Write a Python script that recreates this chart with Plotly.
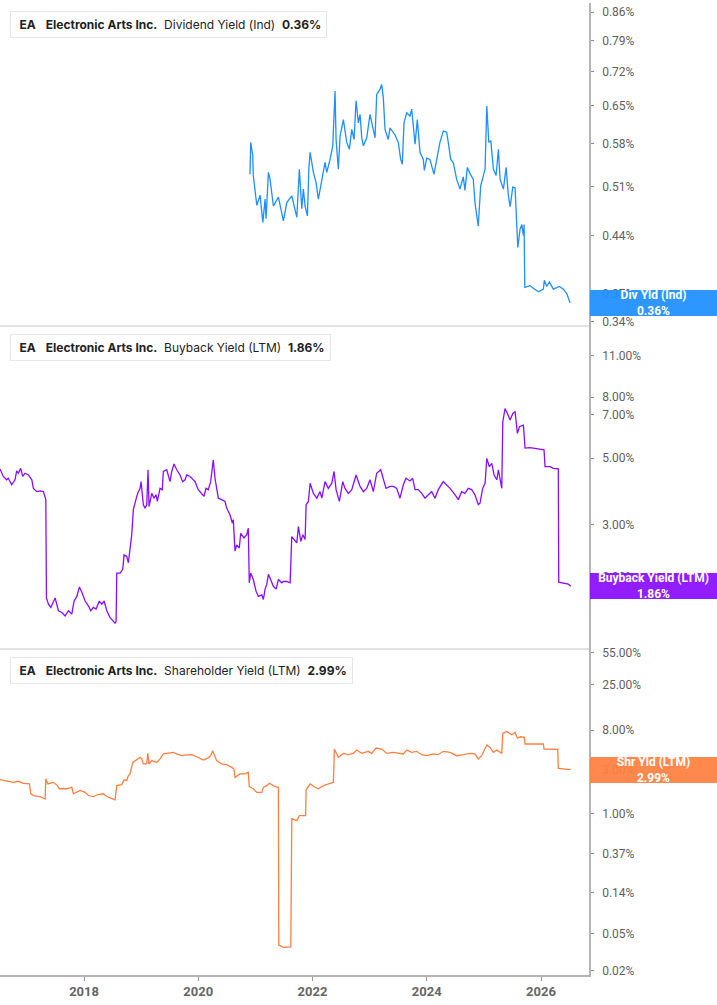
import math
from datetime import datetime, timedelta
import plotly.graph_objects as go
from plotly.subplots import make_subplots

# ---------------- data (decimal years, values in %) ----------------
div_years = [2020.906, 2020.919, 2020.954, 2020.964, 2021.024, 2021.081, 2021.129, 2021.169, 2021.186, 2021.227,
             2021.256, 2021.314, 2021.402, 2021.489, 2021.549, 2021.636, 2021.724, 2021.769, 2021.811, 2021.839,
             2021.869, 2021.910, 2021.934, 2021.957, 2022.015, 2022.062, 2022.102, 2022.162, 2022.219, 2022.249,
             2022.307, 2022.354, 2022.394, 2022.412, 2022.452, 2022.482, 2022.540, 2022.599, 2022.645, 2022.687,
             2022.727, 2022.762, 2022.802, 2022.832, 2022.862, 2022.890, 2022.949, 2023.007, 2023.065, 2023.095,
             2023.124, 2023.182, 2023.212, 2023.240, 2023.270, 2023.327, 2023.357, 2023.445, 2023.502, 2023.544,
             2023.572, 2023.602, 2023.649, 2023.707, 2023.737, 2023.765, 2023.795, 2023.835, 2023.882, 2023.940,
             2023.958, 2024.000, 2024.057, 2024.127, 2024.174, 2024.232, 2024.290, 2024.350, 2024.378, 2024.420,
             2024.465, 2024.525, 2024.583, 2024.640, 2024.670, 2024.711, 2024.758, 2024.816, 2024.845, 2024.903,
             2024.945, 2024.991, 2025.020, 2025.050, 2025.085, 2025.120, 2025.165, 2025.213, 2025.253, 2025.283,
             2025.341, 2025.388, 2025.428, 2025.458, 2025.505, 2025.545, 2025.563, 2025.593, 2025.633, 2025.663,
             2025.691, 2025.703, 2025.715, 2025.808, 2025.866, 2025.954, 2026.041, 2026.058, 2026.100, 2026.146,
             2026.216, 2026.321, 2026.391, 2026.451, 2026.508]
div_vals = [0.529, 0.582, 0.560, 0.527, 0.482, 0.497, 0.458, 0.491, 0.463, 0.532,
            0.521, 0.481, 0.494, 0.460, 0.486, 0.496, 0.465, 0.537, 0.477, 0.506,
            0.481, 0.467, 0.537, 0.565, 0.532, 0.516, 0.491, 0.521, 0.548, 0.532,
            0.553, 0.576, 0.679, 0.587, 0.537, 0.593, 0.623, 0.582, 0.570, 0.605,
            0.587, 0.659, 0.617, 0.633, 0.590, 0.576, 0.590, 0.633, 0.605, 0.590,
            0.672, 0.682, 0.692, 0.665, 0.605, 0.587, 0.608, 0.595, 0.582, 0.553,
            0.545, 0.617, 0.636, 0.630, 0.643, 0.615, 0.579, 0.623, 0.565, 0.553,
            0.535, 0.555, 0.553, 0.529, 0.555, 0.582, 0.602, 0.600, 0.582, 0.553,
            0.548, 0.521, 0.506, 0.525, 0.504, 0.540, 0.530, 0.521, 0.486, 0.453,
            0.511, 0.525, 0.537, 0.649, 0.582, 0.585, 0.537, 0.527, 0.570, 0.521,
            0.506, 0.540, 0.496, 0.480, 0.509, 0.508, 0.477, 0.425, 0.449, 0.455,
            0.440, 0.455, 0.377, 0.379, 0.376, 0.372, 0.375, 0.385, 0.378, 0.383,
            0.375, 0.378, 0.375, 0.370, 0.360]

bb_years = [2016.530, 2016.588, 2016.647, 2016.675, 2016.735, 2016.793, 2016.822, 2016.850, 2016.892, 2016.927,
            2016.968, 2017.025, 2017.085, 2017.113, 2017.172, 2017.230, 2017.288, 2017.330, 2017.341, 2017.376,
            2017.418, 2017.493, 2017.551, 2017.610, 2017.668, 2017.726, 2017.785, 2017.825, 2017.873, 2017.918,
            2017.960, 2018.018, 2018.076, 2018.118, 2018.163, 2018.211, 2018.268, 2018.310, 2018.351, 2018.398,
            2018.456, 2018.503, 2018.543, 2018.561, 2018.573, 2018.631, 2018.678, 2018.701, 2018.748, 2018.776,
            2018.806, 2018.835, 2018.863, 2018.893, 2018.923, 2018.951, 2018.981, 2018.998, 2019.039, 2019.068,
            2019.098, 2019.121, 2019.138, 2019.186, 2019.226, 2019.261, 2019.284, 2019.331, 2019.371, 2019.389,
            2019.448, 2019.506, 2019.536, 2019.576, 2019.623, 2019.681, 2019.728, 2019.769, 2019.798, 2019.856,
            2019.903, 2019.944, 2020.001, 2020.061, 2020.101, 2020.136, 2020.176, 2020.218, 2020.236, 2020.264,
            2020.294, 2020.323, 2020.352, 2020.411, 2020.469, 2020.498, 2020.556, 2020.597, 2020.614, 2020.644,
            2020.673, 2020.719, 2020.744, 2020.801, 2020.849, 2020.877, 2020.894, 2020.919, 2020.964, 2021.011,
            2021.052, 2021.111, 2021.139, 2021.169, 2021.199, 2021.227, 2021.269, 2021.314, 2021.362, 2021.402,
            2021.461, 2021.489, 2021.549, 2021.607, 2021.636, 2021.694, 2021.724, 2021.752, 2021.794, 2021.829,
            2021.869, 2021.887, 2021.927, 2021.957, 2022.015, 2022.074, 2022.132, 2022.162, 2022.219, 2022.277,
            2022.337, 2022.377, 2022.412, 2022.470, 2022.529, 2022.569, 2022.627, 2022.687, 2022.727, 2022.762,
            2022.832, 2022.890, 2022.949, 2023.007, 2023.065, 2023.124, 2023.194, 2023.240, 2023.287, 2023.357,
            2023.415, 2023.474, 2023.532, 2023.590, 2023.637, 2023.707, 2023.754, 2023.795, 2023.852, 2023.912,
            2023.970, 2024.028, 2024.087, 2024.145, 2024.203, 2024.290, 2024.350, 2024.408, 2024.495, 2024.553,
            2024.612, 2024.670, 2024.728, 2024.787, 2024.845, 2024.903, 2024.933, 2024.980, 2025.020, 2025.050,
            2025.095, 2025.137, 2025.178, 2025.225, 2025.253, 2025.295, 2025.312, 2025.330, 2025.370, 2025.411,
            2025.458, 2025.505, 2025.545, 2025.586, 2025.621, 2025.691, 2025.720, 2025.808, 2025.925, 2026.053,
            2026.070, 2026.158, 2026.216, 2026.303, 2026.310, 2026.391, 2026.478, 2026.520]
bb_vals = [4.60, 4.34, 4.23, 4.28, 4.07, 4.23, 4.53, 4.45, 4.62, 4.34,
           4.45, 4.39, 4.23, 3.96, 3.86, 3.88, 3.86, 3.63, 1.70, 1.62,
           1.58, 1.70, 1.54, 1.52, 1.48, 1.54, 1.50, 1.66, 1.72, 1.85,
           1.78, 1.66, 1.60, 1.54, 1.58, 1.56, 1.66, 1.62, 1.66, 1.54,
           1.46, 1.42, 1.40, 1.42, 2.06, 2.06, 2.12, 2.37, 2.34, 2.23,
           2.53, 2.77, 3.36, 3.58, 3.72, 3.86, 3.96, 4.17, 3.49, 3.40,
           3.49, 4.57, 3.44, 3.81, 3.67, 3.77, 3.58, 3.96, 3.92, 4.51,
           4.57, 4.17, 4.51, 4.78, 4.57, 4.39, 4.17, 4.23, 4.39, 4.34,
           4.26, 4.17, 3.92, 3.81, 3.72, 3.96, 3.92, 4.17, 4.45, 4.93,
           4.28, 3.96, 3.67, 3.63, 3.58, 3.40, 3.23, 3.03, 3.11, 2.44,
           2.56, 2.50, 2.80, 2.70, 2.77, 2.91, 1.91, 2.06, 1.96, 1.79,
           1.72, 1.74, 1.68, 1.82, 1.89, 2.04, 1.96, 1.86, 1.82, 1.96,
           1.91, 1.93, 1.93, 1.91, 2.73, 2.63, 2.60, 2.95, 2.63, 2.77,
           2.67, 3.49, 3.58, 4.12, 3.81, 3.67, 3.86, 3.67, 4.17, 3.96,
           4.12, 4.51, 3.92, 3.58, 4.17, 3.96, 3.81, 3.92, 4.17, 4.39,
           4.02, 3.86, 3.96, 4.23, 3.86, 4.45, 4.57, 4.28, 3.96, 4.02,
           4.02, 3.96, 3.67, 4.07, 4.28, 4.19, 4.28, 3.92, 3.92, 3.81,
           3.67, 3.77, 3.86, 3.67, 3.92, 4.17, 4.07, 3.96, 3.77, 3.63,
           3.86, 3.81, 3.96, 3.92, 3.77, 3.49, 3.53, 3.96, 4.12, 4.99,
           4.68, 4.80, 4.39, 4.23, 4.57, 4.17, 3.96, 6.62, 7.33, 7.06,
           6.71, 7.06, 7.15, 6.05, 6.37, 6.45, 5.40, 5.42, 5.37, 5.33,
           4.68, 4.68, 4.62, 4.60, 1.92, 1.91, 1.89, 1.86]

sh_years = [2016.530, 2016.647, 2016.763, 2016.850, 2016.938, 2017.043, 2017.067, 2017.113, 2017.230, 2017.318,
            2017.330, 2017.365, 2017.463, 2017.533, 2017.568, 2017.698, 2017.785, 2017.813, 2017.873, 2017.930,
            2018.018, 2018.076, 2018.163, 2018.251, 2018.338, 2018.398, 2018.456, 2018.543, 2018.573, 2018.660,
            2018.701, 2018.748, 2018.776, 2018.806, 2018.853, 2018.893, 2018.981, 2019.011, 2019.039, 2019.098,
            2019.116, 2019.138, 2019.186, 2019.273, 2019.331, 2019.389, 2019.476, 2019.564, 2019.623, 2019.711,
            2019.798, 2019.886, 2019.973, 2020.089, 2020.176, 2020.218, 2020.253, 2020.294, 2020.323, 2020.411,
            2020.498, 2020.586, 2020.626, 2020.644, 2020.684, 2020.731, 2020.819, 2020.877, 2020.894, 2020.964,
            2021.024, 2021.111, 2021.139, 2021.199, 2021.244, 2021.286, 2021.344, 2021.402, 2021.409, 2021.489,
            2021.619, 2021.636, 2021.724, 2021.769, 2021.878, 2021.887, 2021.957, 2022.044, 2022.102, 2022.190,
            2022.277, 2022.365, 2022.382, 2022.452, 2022.540, 2022.627, 2022.715, 2022.774, 2022.862, 2022.977,
            2023.037, 2023.112, 2023.212, 2023.300, 2023.415, 2023.502, 2023.590, 2023.649, 2023.737, 2023.824,
            2023.912, 2024.000, 2024.115, 2024.203, 2024.290, 2024.408, 2024.525, 2024.640, 2024.758, 2024.845,
            2024.903, 2024.962, 2024.991, 2025.050, 2025.108, 2025.165, 2025.225, 2025.283, 2025.312, 2025.330,
            2025.400, 2025.487, 2025.545, 2025.586, 2025.645, 2025.708, 2025.720, 2025.866, 2026.041, 2026.053,
            2026.158, 2026.293, 2026.303, 2026.420, 2026.520]
sh_vals = [2.34, 2.24, 2.18, 2.24, 2.13, 2.10, 1.64, 1.57, 1.53, 1.44,
           2.38, 2.10, 2.18, 2.01, 1.86, 1.86, 1.93, 1.64, 1.70, 1.78,
           1.70, 1.57, 1.53, 1.61, 1.64, 1.53, 1.48, 1.41, 2.01, 2.06,
           2.32, 2.28, 2.58, 2.69, 3.59, 3.75, 4.07, 3.91, 3.45, 3.45,
           4.49, 3.45, 3.75, 3.59, 3.91, 4.43, 4.49, 4.61, 4.43, 4.24,
           4.32, 4.35, 4.13, 3.81, 4.02, 4.24, 4.81, 4.24, 3.75, 3.45,
           3.39, 3.17, 3.04, 2.47, 2.58, 2.69, 2.69, 2.80, 1.96, 1.86,
           1.70, 1.70, 1.93, 2.01, 2.13, 2.06, 1.96, 1.93, 0.0376, 0.0355,
           0.036, 0.88, 0.84, 0.95, 0.95, 1.81, 2.10, 1.93, 1.86, 2.01,
           2.10, 2.18, 5.01, 4.07, 4.49, 4.35, 4.49, 4.89, 4.49, 4.73,
           4.49, 5.14, 5.01, 4.49, 4.61, 4.49, 4.43, 4.89, 4.61, 4.73,
           4.35, 4.24, 4.43, 4.35, 4.73, 4.61, 4.24, 4.35, 4.49, 4.43,
           3.91, 4.24, 4.61, 5.54, 5.21, 4.61, 4.89, 4.61, 4.49, 7.39,
           7.77, 7.15, 7.57, 6.59, 6.80, 6.69, 5.68, 5.68, 5.68, 5.01,
           5.01, 4.97, 3.09, 3.02, 2.99]

div_ticks = [0.34, 0.37, 0.44, 0.51, 0.58, 0.65, 0.72, 0.79, 0.86]
bb_ticks = [2.0, 3.0, 5.0, 7.0, 8.0, 11.0]
sh_ticks = [0.02, 0.05, 0.14, 0.37, 1.0, 3.0, 8.0, 25.0, 55.0]
year_ticks = [2018, 2020, 2022, 2024, 2026]

company = "Electronic Arts Inc."
ticker = "EA"
metric_names = ["Dividend Yield (Ind)", "Buyback Yield (LTM)", "Shareholder Yield (LTM)"]
tag_names = ["Div Yld (Ind)", "Buyback Yield (LTM)", "Shr Yld (LTM)"]
colors = ["#1e8fff", "#8a0dff", "#ff7f40"]
tag_colors = ["rgba(30,143,255,0.93)", "rgba(138,13,255,0.93)", "rgba(255,127,64,0.93)"]


def to_date(y):
    yr = int(y)
    return datetime(yr, 1, 1) + timedelta(days=(y - yr) * 365.25)


series = [(div_years, div_vals, div_ticks), (bb_years, bb_vals, bb_ticks), (sh_years, sh_vals, sh_ticks)]
y_ranges = [[-0.4739, -0.0538], [0.0593, 1.1417], [-1.749, 1.7836]]

fig = make_subplots(rows=3, cols=1, shared_xaxes=True, vertical_spacing=0,
                    row_heights=[324, 324, 327])

tick_font = dict(family="Roboto, Arial, sans-serif", size=12, color="#5f5f5f")

for i, (yrs, vals, ticks) in enumerate(series):
    row = i + 1
    fig.add_trace(go.Scatter(x=[to_date(v) for v in yrs], y=vals, mode="lines",
                             line=dict(color=colors[i], width=1.3), showlegend=False,
                             hoverinfo="skip"), row=row, col=1)
    fig.update_yaxes(type="log", side="right", range=y_ranges[i],
                     tickvals=ticks, ticktext=[f"{t:.2f}%" for t in ticks],
                     showgrid=False, zeroline=False, showline=True,
                     linecolor="#b4b4b4", linewidth=1.5, ticks="outside", ticklen=3,
                     tickcolor="#888", tickfont=tick_font, ticklabelstandoff=6,
                     row=row, col=1)
    last = vals[-1]
    yref = "y" if row == 1 else f"y{row}"
    # header box
    fig.add_annotation(xref="paper", x=0, xanchor="left", xshift=10,
                       yref=f"{yref} domain", y=1, yanchor="top", yshift=-8,
                       text=(f"&nbsp;<b>{ticker}</b>&nbsp;&nbsp;&nbsp;<b>{company}</b>&nbsp;&nbsp;"
                             f"{metric_names[i]}&nbsp;&nbsp;<b>{last:.2f}%</b>"),
                       showarrow=False, bgcolor="white", bordercolor="#e6e6e6",
                       borderwidth=1, borderpad=5,
                       font=dict(family="Inter, Arial, sans-serif", size=12, color="#222"))
    fig.add_shape(type="rect", xref="paper", xsizemode="pixel", xanchor=0, x0=10, x1=13,
                  yref=f"{yref} domain", ysizemode="pixel", yanchor=1, y0=-8, y1=-33,
                  fillcolor=colors[i], line=dict(width=0))
    # right value tag
    fig.add_annotation(xref="paper", x=1, xanchor="left", xshift=1,
                       yref=yref, y=math.log10(last), yanchor="middle",
                       text=f"<b>{tag_names[i]}<br>{last:.2f}%</b>",
                       showarrow=False, bgcolor=tag_colors[i], borderpad=0, borderwidth=0,
                       width=127, height=26, align="center",
                       font=dict(family="Roboto, Arial, sans-serif", size=12, color="white"))
    if row < 3:
        fig.add_shape(type="line", xref="paper", x0=0, x1=1,
                      yref=f"{yref} domain", y0=0, y1=0,
                      line=dict(color="#c4c4c4", width=1))

fig.update_xaxes(type="date", range=[to_date(2016.53), to_date(2026.84)],
                 showgrid=False, zeroline=False)
fig.update_xaxes(showticklabels=False, showline=False, row=1, col=1)
fig.update_xaxes(showticklabels=False, showline=False, row=2, col=1)
fig.update_xaxes(tickvals=[datetime(y, 1, 1) for y in year_ticks],
                 ticktext=[str(y) for y in year_ticks],
                 showline=True, linecolor="#b4b4b4", linewidth=1.5,
                 ticks="outside", ticklen=4, tickcolor="#999",
                 tickfont=dict(family="Roboto, Arial, sans-serif", size=13, color="#666", weight="bold"),
                 row=3, col=1)

fig.update_layout(width=717, height=1005, margin=dict(l=0, r=128, t=0, b=30),
                  paper_bgcolor="white", plot_bgcolor="white", showlegend=False)

fig.write_html("out.html")
